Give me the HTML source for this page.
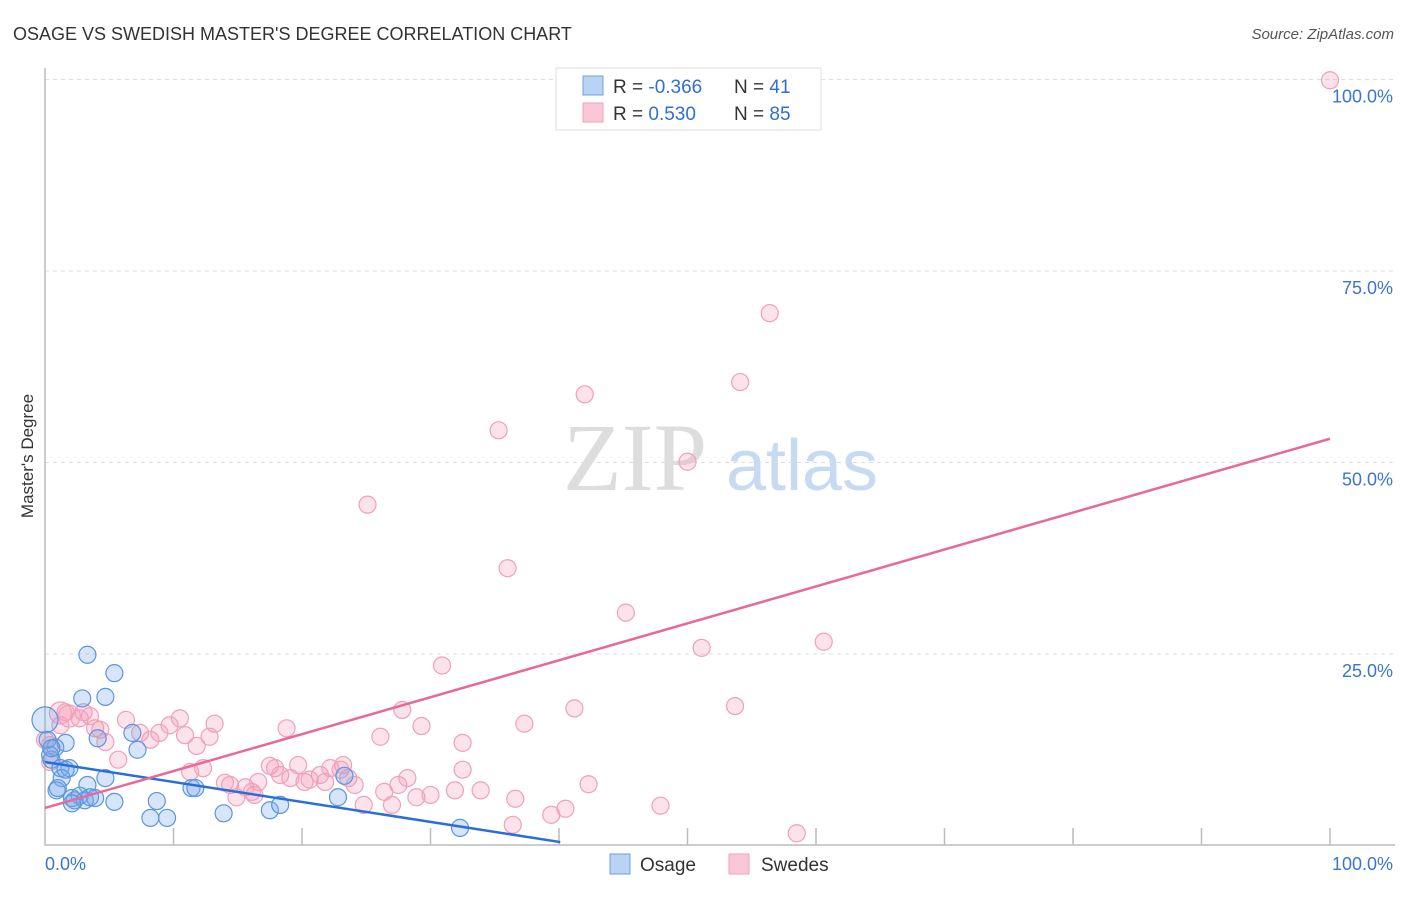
<!DOCTYPE html>
<html><head><meta charset="utf-8"><style>
body{margin:0;background:#fff;font-family:"Liberation Sans",sans-serif;}
</style></head><body>
<svg id="chart" width="1406" height="892" xmlns="http://www.w3.org/2000/svg" style="font-family:'Liberation Sans',sans-serif">
<text x="13" y="40" font-size="18" fill="#333">OSAGE VS SWEDISH MASTER'S DEGREE CORRELATION CHART</text>
<text x="1394" y="39" font-size="15" fill="#555" font-style="italic" text-anchor="end">Source: ZipAtlas.com</text>
<g>
<text x="635" y="490" font-size="96" fill="#ddd" font-family="Liberation Serif,serif" text-anchor="middle">ZIP</text>
<text x="802" y="490" font-size="72" fill="#c8daf2" text-anchor="middle">atlas</text>
</g>
<g id="grid"></g>
<g id="axes"></g>
<g id="pts"></g>
<g id="lines"></g>
<text transform="translate(33,456) rotate(-90)" font-size="17" fill="#333" text-anchor="middle">Master's Degree</text>
<g>
<rect x="556" y="68" width="265" height="62" fill="#fff" stroke="#ddd"/>
<rect x="583" y="76" width="20" height="19" fill="#b8d3f5" stroke="#6fa0e0"/>
<rect x="583" y="103" width="20" height="19" fill="#fbc7d6" stroke="#f0a0b8"/>
<text x="613" y="93" font-size="19" fill="#333">R = <tspan fill="#2f6fd0">-0.366</tspan></text>
<text x="734" y="93" font-size="19" fill="#333">N = <tspan fill="#2f6fd0"> 41</tspan></text>
<text x="613" y="120" font-size="19" fill="#333">R = <tspan fill="#2f6fd0"> 0.530</tspan></text>
<text x="734" y="120" font-size="19" fill="#333">N = <tspan fill="#2f6fd0">85</tspan></text>
</g>
<g>
<rect x="610" y="854" width="20" height="20" fill="#b8d3f5" stroke="#6fa0e0"/>
<text x="640" y="871" font-size="19" fill="#333">Osage</text>
<rect x="729" y="854" width="20" height="20" fill="#fbc7d6" stroke="#f0a0b8"/>
<text x="761" y="871" font-size="19" fill="#333">Swedes</text>
</g>
</svg>
<script>
const yTicks=[25,50,75,100];
const yTickLabels=["25.0%","50.0%","75.0%","100.0%"];
const xTicks=[0,10,20,30,40,50,60,70,80,90,100];
const osageX=[3.3,5.4,2.9,4.7,0,0.8,1.6,4.1,6.8,7.2,0.5,1.2,1.9,1.3,3.3,4.7,0.9,2.1,2.7,2.3,3.1,3.9,5.4,8.7,11.4,11.7,8.2,9.5,13.9,17.5,18.3,22.8,23.3,32.3,0.2,0.4,2.1,1.0,3.5,0.5,1.6];
const osageY=[24.9,22.5,19.2,19.4,16.4,12.8,13.4,14.0,14.7,12.5,11.2,10.1,10.1,8.8,7.9,8.8,7.2,6.2,6.5,5.9,5.9,6.2,5.7,5.8,7.5,7.5,3.6,3.6,4.2,4.6,5.3,6.3,9.1,2.3,13.8,11.8,5.5,7.5,6.3,12.7,9.9];
const swedesX=[100,56.4,54.1,42.0,35.3,50.0,25.1,36.0,45.2,60.6,51.1,30.9,53.7,41.2,27.8,37.3,29.3,18.8,26.1,32.5,1.2,1.9,2.7,3.5,1.2,3.9,4.3,6.3,7.4,8.2,8.9,9.7,10.5,13.2,10.9,11.8,12.8,5.7,4.7,0,0.4,11.3,12.3,14.0,14.9,15.6,16.1,16.6,17.5,18.3,19.7,20.6,21.4,22.2,23.0,23.6,24.1,23.2,20.2,21.8,24.8,26.4,27.0,27.5,28.2,28.9,30.0,31.9,32.5,33.9,36.6,36.4,39.4,40.5,42.3,47.9,58.5,16.3,19.1,14.4,17.9,0.4,1.6,3.0];
const swedesY=[99.9,69.5,60.5,58.9,54.2,50.1,44.5,36.2,30.4,26.6,25.8,23.5,18.2,17.9,17.7,15.9,15.6,15.3,14.2,13.4,17.3,16.9,16.6,16.9,15.7,15.3,15.1,16.4,14.7,13.8,14.7,15.7,16.6,15.9,14.4,13.0,14.2,11.2,13.5,13.8,10.9,9.6,10.1,8.2,6.3,7.6,7.0,8.3,10.4,9.2,10.5,8.6,9.2,10.1,9.9,8.8,7.9,10.5,8.3,8.3,5.3,7.0,5.3,7.9,8.8,6.3,6.6,7.2,9.9,7.2,6.1,2.7,4.0,4.8,8.0,5.2,1.6,6.6,8.8,7.9,10.1,13.1,17.4,17.4];
const osageTrend=[[0,10.9],[40.1,0.45]];
const swedesTrend=[[0,4.9],[100,53.1]];
const NS="http://www.w3.org/2000/svg";
const X=v=>45+v*12.85, Y=v=>845.5-v*7.66;
function mk(tag,attrs,parent){const e=document.createElementNS(NS,tag);for(const k in attrs)e.setAttribute(k,attrs[k]);parent.appendChild(e);return e;}
const grid=document.getElementById('grid'),axes=document.getElementById('axes'),pts=document.getElementById('pts'),lines=document.getElementById('lines');
yTicks.forEach((t,i)=>{
  const l=mk('line',{x1:45,x2:1395,y1:Y(t),y2:Y(t),stroke:'#ddd','stroke-dasharray':'4,4'},grid);
  
  
  const tx=mk('text',{x:1393,y:Y(t)+23,'font-size':18,fill:'#3a75d0','text-anchor':'end'},grid);
  tx.textContent=yTickLabels[i];
  
  
});
const ax=mk('path',{d:'M45,68 V845 H1395',fill:'none',stroke:'#bbb','stroke-width':1.5},axes);


xTicks.forEach(t=>{
  if(t===0)return;
  const l=mk('line',{x1:X(t),x2:X(t),y1:828,y2:845,stroke:'#bbb','stroke-width':1.5},axes);
  
  
});
const xl0=mk('text',{x:45,y:870,'font-size':18,fill:'#3a75d0'},axes);xl0.textContent='0.0%';


const xl1=mk('text',{x:1393,y:870,'font-size':18,fill:'#3a75d0','text-anchor':'end'},axes);xl1.textContent='100.0%';


swedesX.forEach((v,i)=>{
  const c=mk('circle',{cx:X(v),cy:Y(swedesY[i]),r:(i>=20&&i<22)?11:8.5,fill:'rgba(246,160,188,0.3)',stroke:'#f0a0b8','stroke-width':1.2},pts);
  
  
});
osageX.forEach((v,i)=>{
  const c=mk('circle',{cx:X(v),cy:Y(osageY[i]),r:i===4?13:8.5,fill:'rgba(120,170,235,0.3)',stroke:'#5b95e0','stroke-width':1.2},pts);
  
  
});
const lb=mk('line',{x1:X(osageTrend[0][0]),y1:Y(osageTrend[0][1]),x2:X(osageTrend[1][0]),y2:Y(osageTrend[1][1]),stroke:'#2a6fd6','stroke-width':2.5},lines);


const lp=mk('line',{x1:X(swedesTrend[0][0]),y1:Y(swedesTrend[0][1]),x2:X(swedesTrend[1][0]),y2:Y(swedesTrend[1][1]),stroke:'#e8689a','stroke-width':2.5},lines);


</script>
</body></html>
